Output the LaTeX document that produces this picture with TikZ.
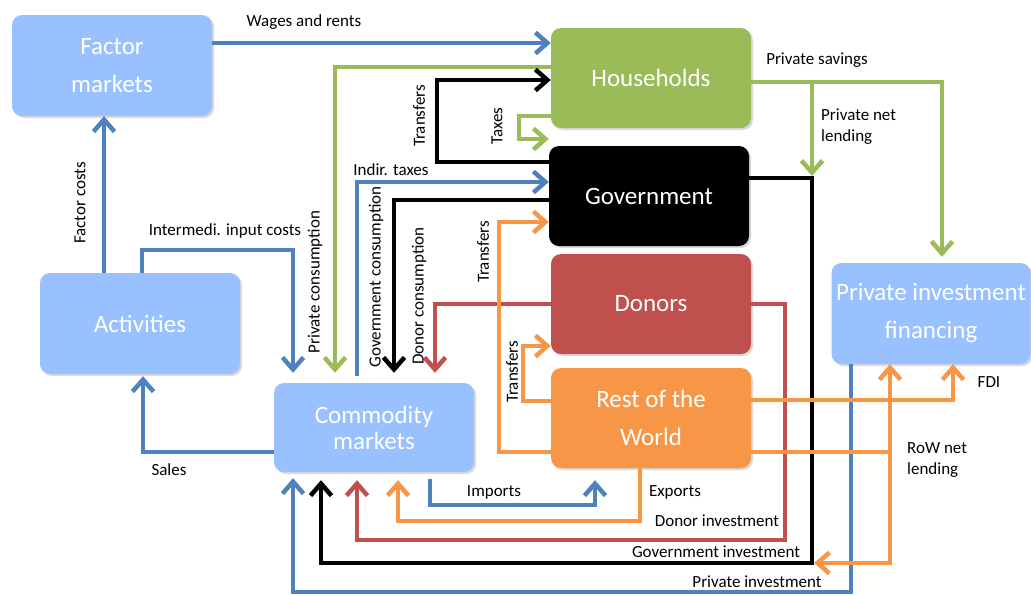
\documentclass[tikz,border=0pt]{standalone}
\usepackage{fontspec}
\setmainfont{Carlito}
\usetikzlibrary{arrows.meta, shadows}

\definecolor{boxblue}{RGB}{153,192,255}
\definecolor{flowblue}{RGB}{79,129,189}
\definecolor{hhgreen}{RGB}{155,187,89}
\definecolor{donred}{RGB}{192,80,77}
\definecolor{roworange}{RGB}{247,150,70}

\begin{document}
\begin{tikzpicture}[x=1pt, y=-1pt, >={Straight Barb[length=12pt,width=21pt]},
    sector/.style={rounded corners=10pt, minimum width=200pt, minimum height=100pt,
        text=white, align=center, font=\fontsize{25}{38}\selectfont,
        drop shadow={shadow xshift=2pt, shadow yshift=-2pt, opacity=0.3}},
    flow/.style={line width=4.5pt},
    lbl/.style={font=\fontsize{17}{21}\selectfont, inner sep=0pt}]
    \useasboundingbox (0,0) rectangle (1031,595);

    \node[sector, fill=boxblue, minimum height=101pt] (fac) at (112,65.5) {Factor\\markets};
    \node[sector, fill=boxblue, minimum height=101pt] (act) at (140,323.5) {Activities};
    \node[sector, fill=boxblue, minimum height=89pt, font=\fontsize{25}{26}\selectfont] (com) at (374,427.5) {Commodity\\markets};
    \node[sector, fill=hhgreen] (hh) at (651,78) {Households};
    \node[sector, fill=black] (gov) at (649,196) {Government};
    \node[sector, fill=donred] (don) at (651,304) {Donors};
    \node[sector, fill=roworange] (row) at (651,418) {Rest of the\\World};
    \node[sector, fill=boxblue, minimum width=199pt, minimum height=101pt] (pif) at (931,313.5) {Private investment\\financing};

    \coordinate (pnl) at (812,82);
    \coordinate (pnlend) at (812,176);
    \coordinate (gic) at (812,563);
    \coordinate (rnl) at (890,452);

    \draw[flow, flowblue, ->] (fac.east |- 0,43) -- (hh.west |- 0,43);
    \draw[flow, flowblue, ->] (act.north -| 104,0) -- (fac.south -| 104,0);
    \draw[flow, flowblue, ->] (act.north -| 142,0) |- (293,250) -- ([yshift=10pt]com.north -| 293,0);
    \draw[flow, flowblue, ->] (com.west |- 0,452) -| ([yshift=-2pt]act.south -| 143,0);
    \draw[flow, hhgreen, ->] (hh.west |- 0,67) -| ([yshift=10pt]com.north -| 335,0);
    \draw[flow, black, ->] (gov.west |- 0,162) -| (437,80) -- (hh.west |- 0,80);
    \draw[flow, hhgreen, ->] (hh.west |- 0,116) -| (519,139) -- (gov.west |- 0,139);
    \draw[flow, flowblue, ->] ([yshift=7pt]com.north -| 357,0) |- (gov.west |- 0,182);
    \draw[flow, black, ->] (gov.west |- 0,200) -| ([yshift=10pt]com.north -| 394,0);
    \draw[flow, donred, ->] (don.west) -| ([yshift=10pt]com.north -| 435,0);
    \draw[flow, roworange, ->] (row.west |- 0,452) -| (499,222) -- (gov.west |- 0,222);
    \draw[flow, roworange, ->] (row.west |- 0,401) -| (523,346) -- (don.west |- 0,346);
    \draw[flow, flowblue, ->] ([yshift=-7pt]com.south -| 430,0) |- (595,505) -- ([yshift=-12pt]row.south -| 595,0);
    \draw[flow, roworange, ->] (row.south -| 640,0) |- (398,521) -- ([yshift=-8pt]com.south -| 398,0);
    \draw[flow, donred, ->] (don.east) -| (785,540) -| ([yshift=-8pt]com.south -| 357,0);
    \draw[flow, black, ->] (gov.east |- 0,178) -| (gic) -| ([yshift=-8pt]com.south -| 321,0);
    \draw[flow, flowblue, ->] (pif.south -| 851,0) |- (293,592) -- ([yshift=-6pt]com.south -| 293,0);
    \draw[flow, hhgreen, ->] (hh.east |- 0,82) -| ([yshift=6pt]pif.north -| 942,0);
    \draw[flow, hhgreen, ->] (pnl) -- (pnlend);
    \draw[flow, roworange, ->] (row.east |- 0,400) -| (pif.south -| 953,0);
    \draw[flow, roworange, ->] (row.east |- rnl) -| (pif.south -| 890,0);
    \draw[flow, roworange, ->] (rnl) |- ([xshift=2pt]gic);

    \node[lbl] (lwage) at (304,22) {Wages and rents};
    \node[lbl, rotate=90] (lfac) at (80,203) {Factor costs};
    \node[lbl] (linp) at (225,231) {Intermedi. input costs};
    \node[lbl] (lsale) at (169,470) {Sales};
    \node[lbl, rotate=90] (lpc) at (315,282) {Private consumption};
    \node[lbl, rotate=90] (ltrh) at (419,116) {Transfers};
    \node[lbl, rotate=90] (ltax) at (497,126) {Taxes};
    \node[lbl] (lind) at (391,170) {Indir. taxes};
    \node[lbl, rotate=90] (lgc) at (376,277) {Government consumption};
    \node[lbl, rotate=90] (ldc) at (419,296) {Donor consumption};
    \node[lbl, rotate=90] (ltrg) at (483,252) {Transfers};
    \node[lbl, rotate=90] (ltrd) at (512,372) {Transfers};
    \node[lbl] (limp) at (494,492) {Imports};
    \node[lbl] (lexp) at (675,492) {Exports};
    \node[lbl] (ldi) at (717,521) {Donor investment};
    \node[lbl] (lgi) at (716,552) {Government investment};
    \node[lbl] (lpi) at (757,582) {Private investment};
    \node[lbl] (lps) at (817,60) {Private savings};
    \node[lbl, align=left, anchor=west] (lpnl) at (821,127) {Private net\\lending};
    \node[lbl] (lfdi) at (989,382) {FDI};
    \node[lbl, align=left, anchor=west] (lrnl) at (907,460) {RoW net\\lending};
\end{tikzpicture}
\end{document}
